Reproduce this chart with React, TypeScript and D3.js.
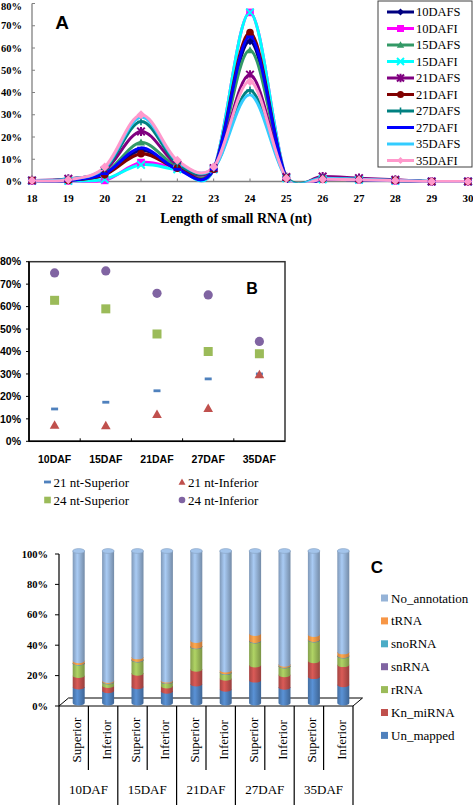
import React from "react";
import * as d3 from "d3";

// ---------- Panel A data ----------
const lengths = [18, 19, 20, 21, 22, 23, 24, 25, 26, 27, 28, 29, 30];
const yTicksA = [0, 10, 20, 30, 40, 50, 60, 70, 80];
const d10DAFS = [0.5, 0.5, 3, 14, 6, 5.5, 63, 1.5, 1, 0.8, 0.5, 0, 0];
const d10DAFI = [0.3, 0.3, 0.5, 8.5, 6, 5.5, 76, 1.5, 1, 0.8, 0.3, 0, 0];
const d15DAFS = [0.5, 0.8, 3.5, 17.5, 6.5, 5.5, 59, 1.5, 1.2, 0.8, 0.5, 0, 0];
const d15DAFI = [0.3, 0.3, 1, 7.5, 5.5, 5.5, 76, 1.5, 1, 0.8, 0.3, 0, 0];
const d21DAFS = [0.5, 1.2, 5, 22.5, 7.5, 6, 48, 2, 2.2, 1.5, 0.8, 0, 0];
const d21DAFI = [0.5, 0.5, 3, 12.5, 6, 5.5, 67, 1.5, 1, 0.8, 0.5, 0, 0];
const d27DAFS = [0.5, 1, 5.5, 27, 8, 6, 41, 2, 1.5, 1, 0.5, 0, 0];
const d27DAFI = [0.5, 0.5, 3.5, 15, 5.5, 5.5, 65, 1.5, 1, 0.8, 0.5, 0, 0];
const d35DAFS = [0.5, 1, 6, 29, 9, 6, 39, 1.5, 1.5, 1, 0.5, 0, 0];
const d35DAFI = [0.5, 0.8, 6.5, 30, 9.5, 6.5, 45, 1.5, 1, 0.8, 0.5, 0, 0];
const seriesNamesA = ["10DAFS", "10DAFI", "15DAFS", "15DAFI", "21DAFS", "21DAFI", "27DAFS", "27DAFI", "35DAFS", "35DAFI"];
const seriesValuesA = [d10DAFS, d10DAFI, d15DAFS, d15DAFI, d21DAFS, d21DAFI, d27DAFS, d27DAFI, d35DAFS, d35DAFI];

// ---------- Panel B data ----------
const stagesB = ["10DAF", "15DAF", "21DAF", "27DAF", "35DAF"];
const yTicksB = [0, 10, 20, 30, 40, 50, 60, 70, 80];
const nt21Superior = [14.4, 17.4, 22.5, 27.8, 30];
const nt21Inferior = [7.2, 7, 12, 14.7, 29.7];
const nt24Superior = [62.8, 59, 47.8, 40, 39];
const nt24Inferior = [75, 75.9, 65.9, 65.2, 44.5];
const seriesNamesB = ["21 nt-Superior", "21 nt-Inferior", "24 nt-Superior", "24 nt-Inferior"];

// ---------- Panel C data ----------
const stagesC = ["10DAF", "15DAF", "21DAF", "27DAF", "35DAF"];
const tissuesC = ["Superior", "Inferior"];
const yTicksC = [0, 20, 40, 60, 80, 100];
const unMapped = [10.5, 8, 10.7, 7.7, 12.5, 9, 15, 10.3, 17.3, 12];
const knMiRNA = [7.5, 3.4, 8.8, 3.5, 9.7, 7.2, 10, 8.3, 10.5, 13.2];
const rRNA = [8.2, 2.4, 8.8, 2.8, 14.8, 3.8, 15.8, 5.7, 13.6, 5.7];
const snRNA = [0.1, 0.1, 0.1, 0.1, 0.1, 0.1, 0.1, 0.1, 0.1, 0.1];
const snoRNA = [0.2, 0.2, 0.2, 0.2, 0.2, 0.2, 0.2, 0.2, 0.2, 0.2];
const tRNA = [1.3, 0.7, 1.7, 0.7, 3.8, 1.3, 4.6, 0.9, 3.3, 2.4];
const noAnnotation = [72.2, 85.2, 69.7, 85, 58.9, 78.4, 54.3, 74.5, 55, 66.4];
const classNamesC = ["Un_mapped", "Kn_miRNA", "rRNA", "snRNA", "snoRNA", "tRNA", "No_annotation"];
const classValuesC = [unMapped, knMiRNA, rRNA, snRNA, snoRNA, tRNA, noAnnotation];

// ---------- styles ----------
const SERIF = "'Liberation Serif', 'Times New Roman', serif";
const SANS = "'Liberation Sans', Arial, sans-serif";
const colorsA = ["#000080", "#FF00FF", "#339966", "#00FFFF", "#800080", "#800000", "#008080", "#0000FF", "#33CCFF", "#FF99CC"];
const markersA = ["diamond", "square", "triangle", "x", "star", "circle", "plus", "dash", "none", "diamond"];
const colorsB = ["#4F81BD", "#C0504D", "#9BBB59", "#8064A2"];
const markersB = ["dash", "triangle", "square", "circle"];
const colorsC = ["#4F81BD", "#C0504D", "#9BBB59", "#8064A2", "#4BACC6", "#F79646", "#95B3D7"];

function Marker({ type, x, y, color, s }: { type: string; x: number; y: number; color: string; s: number }) {
  const t = `translate(${x},${y})`;
  switch (type) {
    case "diamond":
      return <path transform={t} d={`M0,${-s}L${s},0L0,${s}L${-s},0Z`} fill={color} />;
    case "square":
      return <rect transform={t} x={-s} y={-s} width={2 * s} height={2 * s} fill={color} />;
    case "triangle":
      return <path transform={t} d={`M0,${-s * 1.05}L${s * 1.05},${s * 0.8}L${-s * 1.05},${s * 0.8}Z`} fill={color} />;
    case "circle":
      return <circle cx={x} cy={y} r={s} fill={color} />;
    case "x":
      return <path transform={t} d={`M${-s},${-s}L${s},${s}M${-s},${s}L${s},${-s}`} stroke={color} strokeWidth={2} fill="none" />;
    case "star":
      return (
        <path transform={t} d={`M${-s},${-s}L${s},${s}M${-s},${s}L${s},${-s}M0,${-s * 1.2}L0,${s * 1.2}`} stroke={color} strokeWidth={2} fill="none" />
      );
    case "plus":
      return <path transform={t} d={`M${-s},0L${s},0M0,${-s}L0,${s}`} stroke={color} strokeWidth={1.6} fill="none" />;
    case "dash":
      return <rect transform={t} x={-s} y={-1.4} width={2 * s} height={2.8} fill={color} />;
    default:
      return null;
  }
}

function PanelA() {
  const xA = d3.scaleLinear().domain([18, 30]).range([32, 468]);
  const yA = d3.scaleLinear().domain([0, 80]).range([181.5, 3.5]);
  const line = d3
    .line<number>()
    .x((_, i) => xA(lengths[i]))
    .y((d) => yA(d))
    .curve(d3.curveCardinal.tension(0));
  const axisColor = "#808080";
  const legY = d3.scalePoint<string>().domain(seriesNamesA).range([12, 160.5]);
  return (
    <g>
      <defs>
        <clipPath id="clipA">
          <rect x={xA(18)} y={0} width={xA(30) - xA(18) + 6} height={yA(0) + 1.2} />
        </clipPath>
      </defs>
      {/* axes */}
      <line x1={xA(18)} x2={xA(18)} y1={yA(80)} y2={yA(0)} stroke={axisColor} strokeWidth={1.3} />
      <line x1={xA(18)} x2={xA(30)} y1={yA(0)} y2={yA(0)} stroke={axisColor} strokeWidth={1.3} />
      {yTicksA.map((v) => (
        <g key={v}>
          <line x1={xA(18)} x2={xA(18) + 3} y1={yA(v)} y2={yA(v)} stroke={axisColor} />
          <text x={22} y={Math.max(yA(v), 6.5)} dy="0.35em" textAnchor="end" fontFamily={SERIF} fontWeight="bold" fontSize={10.5}>
            {v}%
          </text>
        </g>
      ))}
      {lengths.map((l) => (
        <g key={l}>
          <line x1={xA(l)} x2={xA(l)} y1={yA(0) - 3} y2={yA(0)} stroke={axisColor} />
          <text x={xA(l)} y={201.5} textAnchor="middle" fontFamily={SERIF} fontWeight="bold" fontSize={11}>
            {l}
          </text>
        </g>
      ))}
      <text x={236} y={222.5} textAnchor="middle" fontFamily={SERIF} fontWeight="bold" fontSize={14}>
        Length of small RNA (nt)
      </text>
      <text x={62} y={29} textAnchor="middle" fontFamily={SANS} fontWeight="bold" fontSize={19}>
        A
      </text>
      {/* lines */}
      <g clipPath="url(#clipA)">
        {seriesValuesA.map((vals, si) => (
          <path key={si} d={line(vals) || ""} fill="none" stroke={colorsA[si]} strokeWidth={3} />
        ))}
      </g>
      {seriesValuesA.map((vals, si) => (
        <g key={"m" + si}>
          {vals.map((v, i) => (
            <Marker key={i} type={markersA[si]} x={xA(lengths[i])} y={yA(v)} color={colorsA[si]} s={si === 9 ? 4.5 : 3.8} />
          ))}
        </g>
      ))}
      {/* legend */}
      <rect x={378} y={1} width={94} height={166} fill="white" stroke="#404040" strokeWidth={1} />
      {seriesNamesA.map((n, si) => {
        const y = legY(n) || 0;
        return (
          <g key={n}>
            <line x1={387} x2={414} y1={y} y2={y} stroke={colorsA[si]} strokeWidth={3} />
            <Marker type={markersA[si]} x={400.5} y={y} color={colorsA[si]} s={3.5} />
            <text x={416} y={y} dy="0.35em" fontFamily={SERIF} fontSize={12.5}>
              {n}
            </text>
          </g>
        );
      })}
    </g>
  );
}

function PanelB() {
  const xB = d3.scaleBand<string>().domain(stagesB).range([29, 285]);
  const yB = d3.scaleLinear().domain([0, 80]).range([441.3, 261.7]);
  const valsB = [nt21Superior, nt21Inferior, nt24Superior, nt24Inferior];
  const sizes = [3.5, 4.6, 4.5, 4.6];
  const frame = "#333333";
  const legendPos = [
    [47.5, 482],
    [182, 482],
    [47.5, 500],
    [182, 500],
  ];
  return (
    <g>
      <rect x={29} y={yB(80)} width={256} height={yB(0) - yB(80)} fill="none" stroke={frame} strokeWidth={1.5} />
      <line x1={29} x2={29} y1={yB(80)} y2={yB(0)} stroke="#000" strokeWidth={1.6} />
      <line x1={29} x2={285} y1={yB(0)} y2={yB(0)} stroke="#000" strokeWidth={1.6} />
      {yTicksB.map((v) => (
        <g key={v}>
          <line x1={26} x2={29} y1={yB(v)} y2={yB(v)} stroke="#000" />
          <text x={21} y={yB(v)} dy="0.35em" textAnchor="end" fontFamily={SANS} fontWeight="bold" fontSize={10.5}>
            {v}%
          </text>
        </g>
      ))}
      {stagesB.map((s, i) => (
        <g key={s}>
          {i > 0 && <line x1={xB(s)} x2={xB(s)} y1={yB(0)} y2={yB(0) - 3} stroke="#000" />}
          <text x={(xB(s) || 0) + xB.bandwidth() / 2} y={463} textAnchor="middle" fontFamily={SANS} fontWeight="bold" fontSize={10.5}>
            {s}
          </text>
        </g>
      ))}
      <text x={252} y={294} textAnchor="middle" fontFamily={SANS} fontWeight="bold" fontSize={16}>
        B
      </text>
      {valsB.map((vals, si) => (
        <g key={si}>
          {vals.map((v, i) => (
            <Marker key={i} type={markersB[si]} x={(xB(stagesB[i]) || 0) + xB.bandwidth() / 2} y={yB(v)} color={colorsB[si]} s={sizes[si]} />
          ))}
        </g>
      ))}
      {seriesNamesB.map((n, si) => (
        <g key={n}>
          <Marker type={markersB[si]} x={legendPos[si][0]} y={legendPos[si][1]} color={colorsB[si]} s={si === 0 ? 3.5 : 3.3} />
          <text x={legendPos[si][0] + 6} y={legendPos[si][1]} dy="0.35em" fontFamily={SERIF} fontSize={13}>
            {n}
          </text>
        </g>
      ))}
    </g>
  );
}

function PanelC() {
  const barKeys = stagesC.flatMap((s) => tissuesC.map((t) => s + "|" + t));
  const xC = d3.scaleBand<string>().domain(barKeys).range([59, 353]);
  const xG = d3.scaleBand<string>().domain(stagesC).range([59, 353]);
  const yAxis = d3.scaleLinear().domain([0, 100]).range([706, 554]);
  const depthX = 5;
  const depthY = -3;
  const yBar = (v: number) => yAxis(v) + depthY;
  const rx = 6;
  const ry = 2.4;
  const rows = barKeys.map((k, i) => {
    const o: any = { key: k };
    classNamesC.forEach((c, ci) => (o[c] = classValuesC[ci][i]));
    return o;
  });
  const stack = d3.stack<any>().keys(classNamesC)(rows);
  return (
    <g>
      <defs>
        {colorsC.map((c, i) => (
          <linearGradient key={i} id={"cg" + i} x1="0" x2="1" y1="0" y2="0">
            <stop offset="0%" stopColor={d3.color(c)!.darker(0.45).formatHex()} />
            <stop offset="38%" stopColor={d3.color(c)!.brighter(0.35).formatHex()} />
            <stop offset="100%" stopColor={d3.color(c)!.darker(0.7).formatHex()} />
          </linearGradient>
        ))}
      </defs>
      {/* y axis */}
      <line x1={59} x2={59} y1={yAxis(100)} y2={yAxis(0)} stroke="#000" strokeWidth={1.2} />
      {yTicksC.map((v) => (
        <g key={v}>
          <line x1={55} x2={59} y1={yAxis(v)} y2={yAxis(v)} stroke="#000" />
          <text x={48} y={yAxis(v)} dy="0.35em" textAnchor="end" fontFamily={SERIF} fontWeight="bold" fontSize={10.5}>
            {v}%
          </text>
        </g>
      ))}
      {/* floor */}
      <path
        d={`M59,${yAxis(0)}L${59 + 9.5},${yAxis(0) - 8}L${353 + 9.5},${yAxis(0) - 8}L353,${yAxis(0)}Z`}
        fill="none"
        stroke="#000"
        strokeWidth={1}
      />
      {/* bars */}
      {stack.map((layer, li) => (
        <g key={li}>
          {layer.map((seg, bi) => {
            const cx = (xC(barKeys[bi]) || 0) + xC.bandwidth() / 2 + depthX;
            const x0 = cx - rx;
            const x1 = cx + rx;
            const yb = yBar(seg[0]);
            const yt = yBar(seg[1]);
            return (
              <path
                key={bi}
                d={`M${x0},${yt}L${x0},${yb}A${rx},${ry} 0 0 0 ${x1},${yb}L${x1},${yt}Z`}
                fill={`url(#cg${li})`}
              />
            );
          })}
        </g>
      ))}
      {barKeys.map((k, bi) => {
        const cx = (xC(k) || 0) + xC.bandwidth() / 2 + depthX;
        return (
          <ellipse
            key={k}
            cx={cx}
            cy={yBar(100)}
            rx={rx}
            ry={ry}
            fill={d3.color(colorsC[6])!.brighter(0.25).formatHex()}
            stroke={d3.color(colorsC[6])!.darker(0.3).formatHex()}
            strokeWidth={0.6}
          />
        );
      })}
      {/* category table */}
      {stagesC.map((s) => {
        const gx = xG(s) || 0;
        return (
          <g key={s}>
            <line x1={gx} x2={gx} y1={yAxis(0)} y2={805} stroke="#000" strokeWidth={1.2} />
            <line x1={gx + xG.bandwidth() / 2} x2={gx + xG.bandwidth() / 2} y1={yAxis(0)} y2={770} stroke="#000" strokeWidth={1.2} />
            <text x={gx + xG.bandwidth() / 2} y={794} textAnchor="middle" fontFamily={SERIF} fontSize={13}>
              {s}
            </text>
          </g>
        );
      })}
      <line x1={353} x2={353} y1={yAxis(0)} y2={805} stroke="#000" strokeWidth={1.2} />
      {barKeys.map((k) => {
        const cx = (xC(k) || 0) + xC.bandwidth() / 2;
        return (
          <text
            key={k}
            transform={`translate(${cx + 7.5},740) rotate(-90)`}
            textAnchor="middle"
            fontFamily={SERIF}
            fontSize={13}
          >
            {k.split("|")[1]}
          </text>
        );
      })}
      <text x={377} y={573} textAnchor="middle" fontFamily={SANS} fontWeight="bold" fontSize={17}>
        C
      </text>
      {/* legend (reverse order) */}
      {classNamesC
        .slice()
        .reverse()
        .map((n, i) => {
          const ci = classNamesC.indexOf(n);
          const y = 598 + i * 22.9;
          return (
            <g key={n}>
              <rect x={381} y={y - 3.5} width={7} height={7} fill={colorsC[ci]} />
              <text x={391} y={y} dy="0.35em" fontFamily={SERIF} fontSize={13}>
                {n}
              </text>
            </g>
          );
        })}
    </g>
  );
}

export default function App() {
  return (
    <svg
      width={473}
      height={805}
      viewBox="0 0 473 805"
      style={{ position: "absolute", left: 0, top: 0, background: "#fff" }}
    >
      <rect width={473} height={805} fill="#fff" />
      <PanelA />
      <PanelB />
      <PanelC />
    </svg>
  );
}
